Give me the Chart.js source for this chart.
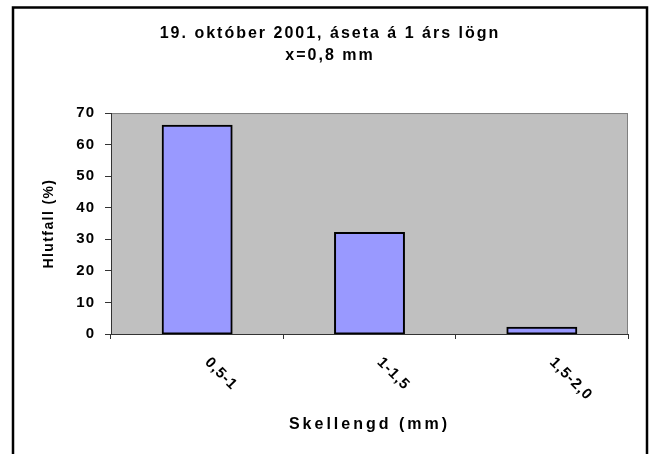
<!DOCTYPE html>
<html>
<head>
<meta charset="utf-8">
<script src="https://cdn.jsdelivr.net/npm/chart.js@4"></script>
<style>body{margin:0;background:#fff}</style>
</head>
<body>
<canvas id="chart" width="654" height="454"></canvas>
<script>
var categories = ['0,5-1', '1-1,5', '1,5-2,0'];
var values = [66, 32, 2];
var yTicks = [0, 10, 20, 30, 40, 50, 60, 70];
var titleLines = ['19. október 2001, áseta á 1 árs lögn', 'x=0,8 mm'];
var yTitle = 'Hlutfall (%)';
var xTitle = 'Skellengd (mm)';

var FONT = "'Liberation Sans', Arial, sans-serif";

// the old Excel picture has wide letter spacing, so wrap the draw calls
function spaced(obj, method, sp) {
    if (obj[method]._spaced) return;
    var orig = obj[method];
    obj[method] = function() {
        var ctx = this.ctx;
        ctx.save();
        ctx.letterSpacing = sp;
        orig.apply(this, arguments);
        ctx.restore();
    };
    obj[method]._spaced = true;
}

// frame and grey plot area
var framePlugin = {
    id: 'frame',
    afterUpdate: function(chart) {
        spaced(chart.titleBlock, 'draw', '2px');
        spaced(chart.scales.x, 'drawTitle', '3px');
        spaced(chart.scales.y, 'drawTitle', '1.4px');
        spaced(chart.scales.y, 'drawLabels', '1px');
    },
    beforeDraw: function(chart) {
        var ctx = chart.ctx;
        var a = chart.chartArea;
        ctx.save();
        ctx.fillStyle = '#fff';
        ctx.fillRect(0, 0, chart.width, chart.height);
        ctx.strokeStyle = '#000';
        ctx.lineWidth = 2.5;
        ctx.strokeRect(13, 7.5, 634, 470);
        ctx.fillStyle = '#c0c0c0';
        ctx.fillRect(a.left, a.top, a.right - a.left, a.bottom - a.top);
        ctx.strokeStyle = '#808080';
        ctx.lineWidth = 1;
        ctx.strokeRect(a.left + 0.5, a.top + 0.5, a.right - a.left - 1, a.bottom - a.top);
        ctx.restore();
    }
};

// category labels turned 45 degrees clockwise (Chart.js only turns the other way)
var xLabelPlugin = {
    id: 'xLabels',
    afterDraw: function(chart) {
        var ctx = chart.ctx;
        var x = chart.scales.x;
        ctx.save();
        ctx.font = 'bold 15px ' + FONT;
        ctx.letterSpacing = '1px';
        ctx.fillStyle = '#000';
        ctx.textAlign = 'left';
        ctx.textBaseline = 'middle';
        x.ticks.forEach(function(t, i) {
            ctx.save();
            ctx.translate(x.getPixelForTick(i) + 10, x.top + 26);
            ctx.rotate(Math.PI / 4);
            ctx.fillText(x.getLabelForValue(t.value), 0, 0);
            ctx.restore();
        });
        ctx.restore();
    }
};

new Chart(document.getElementById('chart'), {
    type: 'bar',
    data: {
        labels: categories,
        datasets: [{
            data: values,
            backgroundColor: '#9999ff',
            borderColor: '#000',
            borderWidth: 2,
            borderSkipped: false,
            inflateAmount: 1,
            barPercentage: 0.4,
            categoryPercentage: 1
        }]
    },
    options: {
        responsive: false,
        animation: false,
        devicePixelRatio: 1,
        layout: { padding: { left: 32, right: 26, top: 0, bottom: 0 } },
        plugins: {
            legend: { display: false },
            tooltip: { enabled: false },
            title: {
                display: true,
                text: titleLines,
                color: '#000',
                font: { family: FONT, size: 16, weight: 'bold', lineHeight: 1.42 },
                padding: { top: 22, bottom: 45.6 }
            }
        },
        scales: {
            x: {
                grid: { drawOnChartArea: false, tickLength: 5, color: '#333', offset: true },
                border: { color: '#333' },
                ticks: { display: false },
                title: {
                    display: true,
                    text: xTitle,
                    color: '#000',
                    font: { family: FONT, size: 16, weight: 'bold' },
                    padding: { top: 0, bottom: 20 }
                },
                afterFit: function(scale) { scale.height = 120; }
            },
            y: {
                min: 0,
                max: 70,
                afterBuildTicks: function(scale) {
                    scale.ticks = yTicks.map(function(v) { return { value: v }; });
                },
                ticks: { color: '#000', padding: 10, font: { family: FONT, size: 15, weight: 'bold' } },
                grid: { drawOnChartArea: false, tickLength: 6, color: '#333' },
                border: { color: '#333' },
                title: {
                    display: true,
                    text: yTitle,
                    color: '#000',
                    font: { family: FONT, size: 14, weight: 'bold' },
                    padding: { top: 9, bottom: 0 }
                },
                afterFit: function(scale) { scale.width = 79; }
            }
        }
    },
    plugins: [framePlugin, xLabelPlugin]
});
</script>
</body>
</html>
